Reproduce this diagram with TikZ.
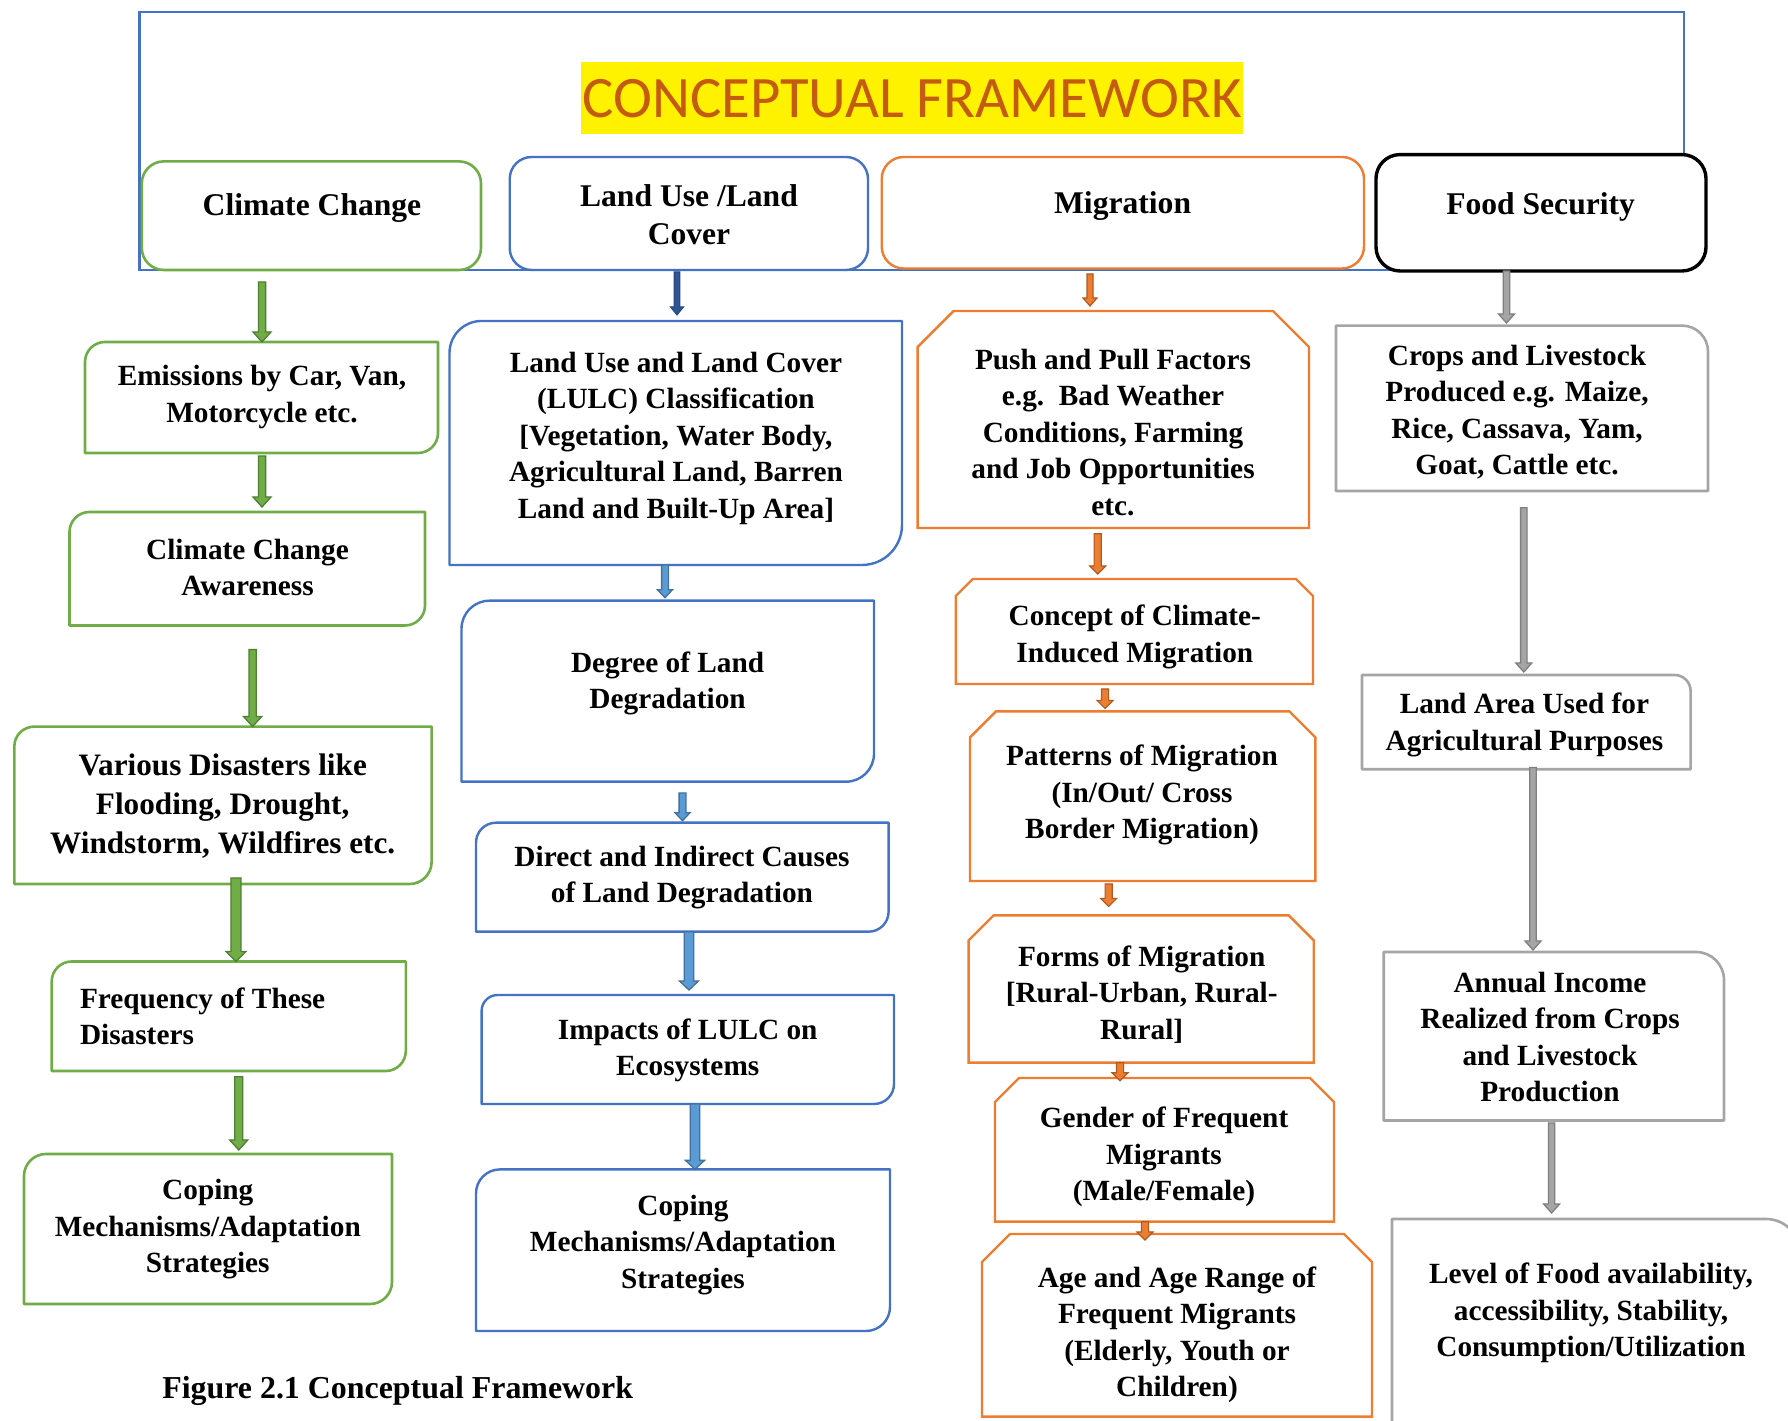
\documentclass[tikz,border=0pt]{standalone}
\usepackage{fontspec}
\setmainfont{Liberation Serif}
\newfontfamily\titlefont{Carlito}
\usetikzlibrary{calc}
\definecolor{gline}{HTML}{70AD47}
\definecolor{garr}{HTML}{507E32}
\definecolor{bline}{HTML}{4472C4}
\definecolor{barrf}{HTML}{5B9BD5}
\definecolor{barrd}{HTML}{41719C}
\definecolor{bdark}{HTML}{2F5597}
\definecolor{oline}{HTML}{ED7D31}
\definecolor{oarr}{HTML}{AE5A21}
\definecolor{grline}{HTML}{A5A5A5}
\definecolor{grarr}{HTML}{7F7F7F}
\definecolor{ttl}{HTML}{C55A11}
\newcommand\mainf{\fontsize{29.3}{36.5}\selectfont\bfseries}
\newcommand\headf{\fontsize{31.6}{38}\selectfont\bfseries}
\newcommand\disf{\fontsize{31.2}{39}\selectfont\bfseries}
% outlines
\newcommand\shpTLBR[4]{\draw[#2] ([yshift=-#3]#1.north west) arc[start angle=180,end angle=90,radius=#3] -- (#1.north east) -- ([yshift=#4]#1.south east) arc[start angle=0,end angle=-90,radius=#4] -- (#1.south west) -- cycle;}
\newcommand\shpTR[3]{\draw[#2] (#1.north west) -- ([xshift=-#3]#1.north east) arc[start angle=90,end angle=0,radius=#3] -- (#1.south east) -- (#1.south west) -- cycle;}
\newcommand\shpSnip[3]{\draw[#2] (#1.south west) -- ([yshift=-#3]#1.north west) -- ([xshift=#3]#1.north west) -- ([xshift=-#3]#1.north east) -- ([yshift=-#3]#1.north east) -- (#1.south east) -- cycle;}
% block arrow: style, from, to, shaft half, head half, head length
\newcommand\barrow[6]{\filldraw[#1] let \p1=(#2), \p2=(#3) in (\x1-#4pt,\y1) -- (\x1+#4pt,\y1) -- (\x1+#4pt,\y2+#6pt) -- (\x1+#5pt,\y2+#6pt) -- (\x1,\y2) -- (\x1-#5pt,\y2+#6pt) -- (\x1-#4pt,\y2+#6pt) -- cycle;}
\begin{document}
\begin{tikzpicture}[x=1pt,y=1pt,
  box/.style={inner sep=0pt,outer sep=0pt,draw=none},
  txt/.style={font=\mainf,align=center,inner sep=0pt},
  gb/.style={draw=gline,line width=2.6pt,line join=round},
  bb/.style={draw=bline,line width=2.4pt,line join=round},
  ob/.style={draw=oline,line width=2.4pt,line join=miter},
  grb/.style={draw=grline,line width=2.6pt,line join=round},
  ga/.style={fill=gline,draw=garr,line width=1.3pt,line join=miter},
  ba/.style={fill=barrf,draw=barrd,line width=1.3pt,line join=miter},
  bda/.style={fill=bdark,draw=bdark!80!black,line width=1pt,line join=miter},
  oa/.style={fill=oline,draw=oarr,line width=1.2pt,line join=miter},
  gra/.style={fill=grline,draw=grarr,line width=1.3pt,line join=miter}]
\useasboundingbox (0,0) rectangle (1788,1421);
\fill[white] (0,0) rectangle (1788,1421);
% outer frame
\node[box,minimum width=1544.5pt,minimum height=258.2pt] (frame) at (911.75,1280.1) {};
\draw[bline,line width=2.4pt] (frame.south west) rectangle (frame.north east);
% title
\node[fill=yellow,inner sep=0pt,minimum width=662pt,minimum height=71.5pt,text=ttl,font=\titlefont\fontsize{58.7}{60}\selectfont] (title) at (912,1322.75) {CONCEPTUAL FRAMEWORK};
% header boxes
\node[box,minimum width=339.2pt,minimum height=108.6pt] (cc) at (311.4,1205.3) {};
\node[box,minimum width=358.3pt,minimum height=113pt] (lu) at (688.85,1207.5) {};
\node[box,minimum width=482.3pt,minimum height=111.5pt] (mig) at (1122.85,1208.25) {};
\node[box,minimum width=330pt,minimum height=116.4pt] (fs) at (1541,1208.2) {};
\draw[gb,fill=white,rounded corners=22pt] (cc.south west) rectangle (cc.north east);
\draw[bb,fill=white,rounded corners=22pt] (lu.south west) rectangle (lu.north east);
\draw[draw=oline,line width=2.4pt,fill=white,rounded corners=22pt] (mig.south west) rectangle (mig.north east);
\draw[draw=black,line width=3.4pt,fill=white,rounded corners=24pt] (fs.south west) rectangle (fs.north east);
\node[txt,font=\headf] (tcc) at (312,1212.5) {Climate Change};
\node[txt,font=\headf] (tlu) at (689,1206) {Land Use /Land\\Cover};
\node[txt,font=\headf] (tmig) at (1122.6,1214.5) {Migration};
\node[txt,font=\headf] (tfs) at (1540.6,1214.5) {Food Security};
% green column
\node[box,minimum width=353pt,minimum height=111pt] (emis) at (261.5,1023.5) {};
\node[box,minimum width=355.5pt,minimum height=113.5pt] (aware) at (247.25,852.25) {};
\node[box,minimum width=417.3pt,minimum height=157.4pt] (dis) at (222.95,615.7) {};
\node[box,minimum width=354.1pt,minimum height=109.5pt] (freq) at (228.75,404.75) {};
\node[box,minimum width=368pt,minimum height=150pt] (copg) at (208,192) {};
\shpTLBR{emis}{gb}{20pt}{20pt}
\shpTLBR{aware}{gb}{20pt}{20pt}
\shpTLBR{dis}{gb}{20pt}{22pt}
\shpTLBR{freq}{gb}{20pt}{20pt}
\shpTLBR{copg}{gb}{22pt}{22pt}
\node[txt] (temis) at (262,1024) {Emissions by Car, Van,\\Motorcycle etc.};
\node[txt] (taware) at (247.5,853.5) {Climate Change\\Awareness};
\node[txt,font=\disf] (tdis) at (222.7,615) {Various Disasters like\\Flooding, Drought,\\Windstorm, Wildfires etc.};
\node[txt,align=left,anchor=west] (tfreq) at (79.8,404.5) {Frequency of These\\Disasters};
\node[txt] (tcopg) at (207.8,191.6) {Coping\\Mechanisms/Adaptation\\Strategies};
% blue column
\node[box,minimum width=452.5pt,minimum height=244pt] (lulc) at (675.75,978) {};
\node[box,minimum width=412.5pt,minimum height=181pt] (deg) at (667.75,729.8) {};
\node[box,minimum width=412.6pt,minimum height=109pt] (dir) at (682.3,543.8) {};
\node[box,minimum width=412.4pt,minimum height=109pt] (imp) at (687.8,371.5) {};
\node[box,minimum width=414pt,minimum height=161.6pt] (copb) at (683,170.8) {};
\shpTLBR{lulc}{bb}{32pt}{40pt}
\shpTLBR{deg}{bb}{28pt}{28pt}
\shpTLBR{dir}{bb}{20pt}{20pt}
\shpTLBR{imp}{bb}{16pt}{20pt}
\shpTLBR{copb}{bb}{24pt}{24pt}
\node[txt] (tlulc) at (676,982.75) {Land Use and Land Cover\\(LULC) Classification\\{[}Vegetation, Water Body,\\Agricultural Land, Barren\\Land and Built-Up Area]};
\node[txt] (tdeg) at (667.6,737.5) {Degree of Land\\Degradation};
\node[txt] (tdir) at (682,543.5) {Direct and Indirect Causes\\of Land Degradation};
\node[txt] (timp) at (687.7,370.5) {Impacts of LULC on\\Ecosystems};
\node[txt] (tcopb) at (683,176) {Coping\\Mechanisms/Adaptation\\Strategies};
% orange column
\node[box,minimum width=391.4pt,minimum height=217pt] (push) at (1113.3,1001.5) {};
\node[box,minimum width=357.2pt,minimum height=105pt] (conc) at (1134.4,789.5) {};
\node[box,minimum width=345.4pt,minimum height=169.6pt] (pat) at (1142.7,624.8) {};
\node[box,minimum width=345.1pt,minimum height=147.3pt] (forms) at (1141.15,431.95) {};
\node[box,minimum width=339pt,minimum height=143.7pt] (gen) at (1164.5,271.15) {};
\node[box,minimum width=390pt,minimum height=182.7pt] (age) at (1177,95.65) {};
\shpSnip{push}{ob}{36pt}
\shpSnip{conc}{ob}{17pt}
\shpSnip{pat}{ob}{26pt}
\shpSnip{forms}{ob}{25pt}
\shpSnip{gen}{ob}{24pt}
\shpSnip{age}{ob}{28pt}
\node[txt] (tpush) at (1113,988.5) {Push and Pull Factors\\e.g.\ \ Bad Weather\\Conditions, Farming\\and Job Opportunities\\etc.};
\node[txt] (tconc) at (1134.8,784) {Concept of Climate-\\Induced Migration};
\node[txt] (tpat) at (1142,626) {Patterns of Migration\\(In/Out/ Cross\\Border Migration)};
\node[txt] (tforms) at (1141.7,426.5) {Forms of Migration\\{[}Rural-Urban, Rural-\\Rural]};
\node[txt] (tgen) at (1164,264) {Gender of Frequent\\Migrants\\(Male/Female)};
\node[txt] (tage) at (1177,86) {Age and Age Range of\\Frequent Migrants\\(Elderly, Youth or\\Children)};
% gray column
\node[box,minimum width=372pt,minimum height=165.4pt] (crops) at (1522,1012.7) {};
\node[box,minimum width=328.6pt,minimum height=94.3pt] (land) at (1526.3,698.85) {};
\node[box,minimum width=340.3pt,minimum height=168.5pt] (ann) at (1553.85,384.75) {};
\node[box,minimum width=408pt,minimum height=212pt] (lvl) at (1596,96) {};
\shpTR{crops}{grb}{26pt}
\shpTR{land}{grb}{16pt}
\shpTR{ann}{grb}{28pt}
\shpTR{lvl}{grb}{34pt}
\node[txt] (tcrops) at (1517,1009) {Crops and Livestock\\Produced e.g. Maize,\\Rice, Cassava, Yam,\\Goat, Cattle etc.};
\node[txt] (tland) at (1524.4,696) {Land Area Used for\\Agricultural Purposes};
\node[txt] (tann) at (1550,384) {Annual Income\\Realized from Crops\\and Livestock\\Production};
\node[txt] (tlvl) at (1591,108) {Level of Food availability,\\accessibility, Stability,\\Consumption/Utilization};
% caption
\node[txt,font=\fontsize{31.9}{38}\selectfont\bfseries] (cap) at (397.7,30.3) {Figure 2.1 Conceptual Framework};
% arrows green
\barrow{ga}{[xshift=-49.4pt,yshift=-12pt]cc.south}{emis.north}{3.6}{9}{10}
\barrow{ga}{[xshift=0.5pt,yshift=-3pt]emis.south}{[yshift=5pt]aware.north}{3.6}{9}{10}
\barrow{ga}{[xshift=5.35pt,yshift=-24pt]aware.south}{dis.north}{3.6}{9}{10}
\barrow{ga}{[xshift=13pt,yshift=6pt]dis.south}{freq.north}{5}{10}{10}
\barrow{ga}{[xshift=10pt,yshift=-5.7pt]freq.south}{[yshift=4pt]copg.north}{4}{9}{10}
% arrows blue
\barrow{bda}{[xshift=-11.85pt,yshift=-2pt]lu.south}{[yshift=6pt]lulc.north}{2.8}{6.5}{8}
\barrow{ba}{[xshift=-10.75pt]lulc.south}{[yshift=3pt]deg.north}{3.4}{7.5}{8}
\barrow{ba}{[xshift=14.75pt,yshift=-11.3pt]deg.south}{[yshift=2pt]dir.north}{3.4}{7.5}{8}
\barrow{ba}{[xshift=6.7pt]dir.south}{[yshift=5pt]imp.north}{4.8}{9.5}{9}
\barrow{ba}{[xshift=7.2pt]imp.south}{copb.north}{4.8}{9.5}{9}
% arrows orange
\barrow{oa}{[xshift=-32.85pt,yshift=-5.5pt]mig.south}{[yshift=5pt]push.north}{3}{7}{8}
\barrow{oa}{[xshift=-15.6pt,yshift=-5.7pt]push.south}{[yshift=5pt]conc.north}{3.6}{8}{8}
\barrow{oa}{[xshift=-29.4pt,yshift=-5pt]conc.south}{[yshift=3pt]pat.north}{3.6}{8}{8}
\barrow{oa}{[xshift=-34pt,yshift=-3pt]pat.south}{[yshift=9pt]forms.north}{3.6}{8}{8}
\barrow{oa}{[xshift=-21.15pt]forms.south}{[yshift=-2.7pt]gen.north}{3.6}{8}{8}
\barrow{oa}{[xshift=-19.5pt]gen.south}{[yshift=-6pt]age.north}{3.6}{8}{8}
% arrows gray
\barrow{gra}{[xshift=-34.5pt]fs.south}{[yshift=2.6pt]crops.north}{3.2}{8}{9}
\barrow{gra}{[xshift=1.8pt,yshift=-16.7pt]crops.south}{[yshift=3pt]land.north}{3.2}{8}{9}
\barrow{gra}{[xshift=6.7pt,yshift=1.7pt]land.south}{[yshift=2pt]ann.north}{3.2}{8}{9}
\barrow{gra}{[xshift=-2.25pt,yshift=-2.5pt]ann.south}{[yshift=6pt]lvl.north}{3.2}{8}{9}
\end{tikzpicture}
\end{document}
